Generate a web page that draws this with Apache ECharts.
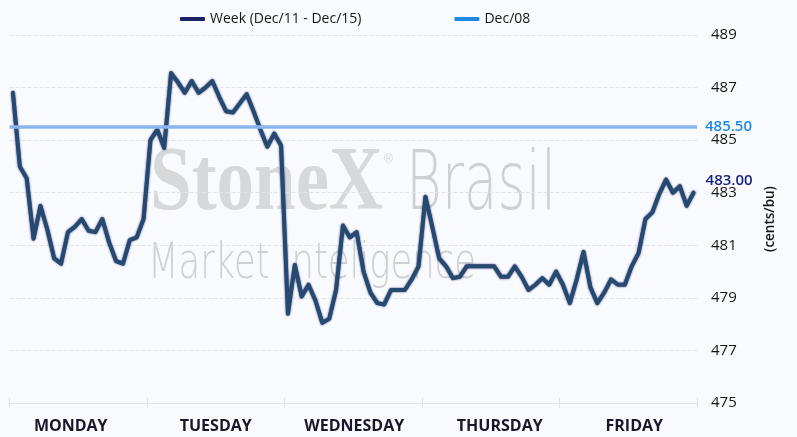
<!DOCTYPE html>
<html>
<head>
<meta charset="utf-8">
<script src="https://cdn.jsdelivr.net/npm/echarts@6/dist/echarts.min.js"></script>
<style>
  html, body { margin: 0; padding: 0; background: #f9fafd; }
  #chart { width: 797px; height: 437px; }
</style>
</head>
<body>
<div id="chart"></div>
<script>
// day labels on the bottom axis
const days = ["MONDAY", "TUESDAY", "WEDNESDAY", "THURSDAY", "FRIDAY"];

// intraday prices, cents/bu (20 readings per day)
const monday = [486.8, 484.0, 483.55, 481.25, 482.5, 481.6, 480.5, 480.3, 481.5, 481.7,
                482.0, 481.55, 481.5, 482.0, 481.1, 480.4, 480.3, 481.2, 481.3, 482.0];
const tuesday = [485.0, 485.4, 484.7, 487.55, 487.2, 486.8, 487.25, 486.8, 487.0, 487.25,
                 486.65, 486.1, 486.05, 486.4, 486.75, 486.1, 485.4, 484.75, 485.25, 484.8];
const wednesday = [478.4, 480.25, 479.05, 479.5, 478.9, 478.05, 478.2, 479.3, 481.75, 481.3,
                   481.5, 480.0, 479.2, 478.8, 478.75, 479.3, 479.3, 479.3, 479.7, 480.2];
const thursday = [482.85, 481.7, 480.5, 480.2, 479.75, 479.8, 480.2, 480.2, 480.2, 480.2,
                  480.2, 479.8, 479.8, 480.2, 479.8, 479.3, 479.5, 479.75, 479.5, 480.0];
const friday = [479.5, 478.8, 479.7, 480.75, 479.4, 478.8, 479.2, 479.7, 479.5, 479.5,
                480.2, 480.7, 482.0, 482.25, 482.95, 483.5, 483.0, 483.25, 482.5, 483.0];

// previous reference price
const dec08Value = 485.5;

// y axis ticks
const yMin = 475, yMax = 489, yStep = 2;

const weekValues = [].concat(monday, tuesday, wednesday, thursday, friday);
const slots = weekValues.map((v, i) => String(i));

const FONT = "'Open Sans', Lato, sans-serif";

// squeeze watermark words to the logo widths
function fitScale(text, font, width) {
  const ctx = document.createElement("canvas").getContext("2d");
  ctx.font = font;
  return width / ctx.measureText(text).width;
}
const serifFont = "bold 90px 'Liberation Serif'";
const thinBig = "200 82px 'DejaVu Sans'";
const thinSmall = "200 50px 'DejaVu Sans'";

const dayRich = {
  d0: { padding: [0, 15, 0, 0] },
  d1: { padding: [0, 0, 0, 0] },
  d2: { padding: [0, 0, 0, 2] },
  d3: { padding: [0, 0, 0, 18] },
  d4: { padding: [0, 0, 0, 12] },
};
Object.keys(dayRich).forEach(k => {
  Object.assign(dayRich[k], { fontFamily: FONT, fontSize: 16, fontWeight: "bold", color: "#16182a" });
});

const chart = echarts.init(document.getElementById("chart"));

chart.setOption({
  backgroundColor: "#f9fafd",
  animation: false,
  textStyle: { fontFamily: FONT },
  graphic: [
    {
      type: "text", x: 150, y: 186, z: 0, silent: true,
      scaleX: fitScale("StoneX", serifFont, 233),
      style: { text: "StoneX", font: serifFont, fill: "#d7d8da", verticalAlign: "middle" },
    },
    {
      type: "text", x: 384, y: 160, z: 0, silent: true,
      style: { text: "®", font: "12px 'Liberation Sans'", fill: "#d7d8da", verticalAlign: "middle" },
    },
    {
      type: "text", x: 406, y: 188, z: 0, silent: true,
      scaleX: fitScale("Brasil", thinBig, 150),
      style: { text: "Brasil", font: thinBig, fill: "#cfd0d2", verticalAlign: "middle" },
    },
    {
      type: "text", x: 148, y: 265, z: 0, silent: true,
      scaleX: fitScale("Market Inteligence", thinSmall, 328),
      style: { text: "Market Inteligence", font: thinSmall, fill: "#cfd0d2", verticalAlign: "middle" },
    },
  ],
  legend: {
    top: 7,
    left: 175,
    itemGap: 93,
    itemWidth: 25,
    itemHeight: 4,
    itemTextGap: 3,
    icon: "roundRect",
    textStyle: { fontFamily: FONT, fontSize: 14, fontWeight: 500, color: "#161616" },
    data: [
      { name: "Week (Dec/11 - Dec/15)", itemStyle: { color: "#1a2166" } },
      { name: "Dec/08", itemStyle: { color: "#1e88e5" } },
    ],
  },
  grid: { left: 9.5, right: 100, top: 35, bottom: 34 },
  xAxis: [
    {
      type: "category",
      data: slots,
      boundaryGap: true,
      position: "bottom",
      show: false,
    },
    {
      type: "category",
      data: days,
      boundaryGap: true,
      position: "bottom",
      axisLine: { show: true, lineStyle: { color: "#dfe3ea", width: 1 } },
      axisTick: { show: true, length: 5, lineStyle: { color: "#dfe3ea" } },
      axisLabel: {
        margin: 15,
        formatter: (v, i) => "{d" + i + "|" + v + "}",
        rich: dayRich,
      },
    },
    {
      type: "category",
      data: days,
      boundaryGap: true,
      position: "bottom",
      axisLine: { show: false },
      axisTick: { show: true, inside: true, length: 5, lineStyle: { color: "#dfe3ea" } },
      axisLabel: { show: false },
    },
  ],
  yAxis: {
    type: "value",
    position: "right",
    min: yMin,
    max: yMax,
    interval: yStep,
    name: "(cents/bu)",
    nameLocation: "middle",
    nameRotate: 90,
    nameGap: 66,
    nameTextStyle: { fontFamily: FONT, fontSize: 13.5, color: "#161616", fontWeight: 600 },
    axisLine: { show: false },
    axisTick: { show: false },
    axisLabel: { margin: 14, fontFamily: FONT, fontSize: 15, fontWeight: 500, color: "#161616" },
    splitLine: { lineStyle: { type: "dashed", color: "#e2e4e9" } },
  },
  series: [
    {
      name: "Week (Dec/11 - Dec/15)",
      type: "line",
      xAxisIndex: 0,
      data: weekValues,
      color: "#1a2166",
      symbol: "none",
      silent: true,
      z: 4,
      lineStyle: {
        width: 4,
        color: "#26496f",
        cap: "round",
        join: "round",
        shadowColor: "rgba(22,30,100,0.9)",
        shadowBlur: 2,
      },
      endLabel: {
        show: true,
        formatter: p => p.value.toFixed(2),
        color: "#1a237e",
        fontFamily: FONT,
        fontSize: 15,
        fontWeight: 600,
        offset: [4, -12],
      },
    },
    {
      name: "Dec/08",
      type: "line",
      xAxisIndex: 0,
      data: [],
      color: "#1e88e5",
      symbol: "none",
      z: 3,
      markLine: {
        silent: true,
        symbol: ["none", "none"],
        data: [{ yAxis: dec08Value }],
        lineStyle: { color: "#8ab4f0", width: 3.5, type: "solid" },
        label: {
          position: "end",
          distance: 8,
          formatter: dec08Value.toFixed(2),
          color: "#1e88e5",
          fontFamily: FONT,
          fontSize: 15,
          fontWeight: 600,
        },
        emphasis: { disabled: true },
      },
    },
  ],
});
</script>
</body>
</html>
